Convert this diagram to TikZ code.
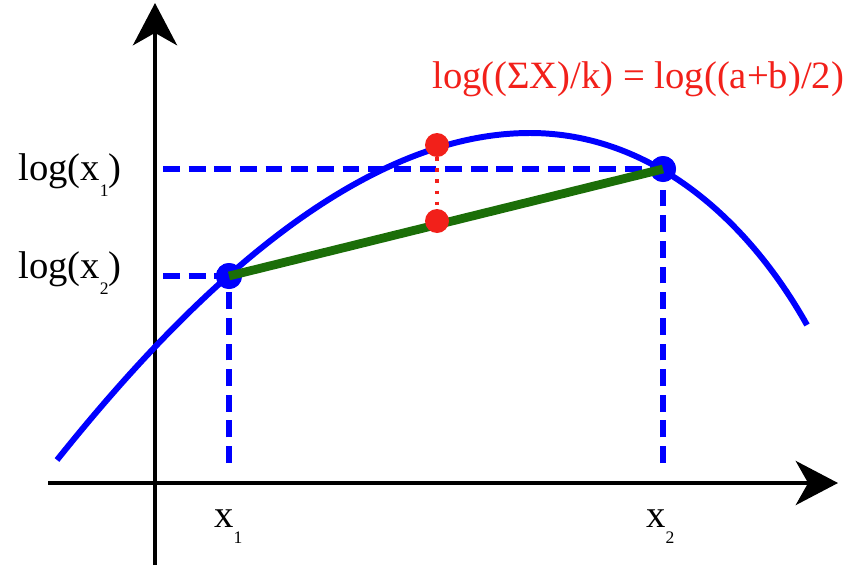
\documentclass[tikz,border=0pt]{standalone}
\usepackage{fontspec}
\setmainfont{Liberation Serif}
\usetikzlibrary{arrows.meta,calc}
\definecolor{curveblue}{HTML}{0000FF}
\definecolor{chordgreen}{HTML}{1B6E08}
\definecolor{meanred}{HTML}{F2201A}
\newcommand{\lowsub}[1]{\raisebox{-0.42em}{\fontsize{10}{10}\selectfont #1}}

\begin{document}
\begin{tikzpicture}[x=0.02cm,y=-0.02cm,>={Stealth[length=24pt,width=25pt,inset=7pt]},
  axis/.style={line width=2.8pt},
  guide/.style={curveblue,line width=3.4pt,dash pattern=on 9.6pt off 5pt},
  bluedot/.style={circle,fill=curveblue,inner sep=0pt,minimum size=0.52cm},
  reddot/.style={circle,fill=meanred,inner sep=0pt,minimum size=0.48cm},
  lbl/.style={font=\fontsize{22}{26}\selectfont,inner sep=0pt}]
  \useasboundingbox (0,0) rectangle (861,575);
  % axes
  \draw[axis,->] (48,483) -- (838,483);
  \draw[axis,->] (155,565) -- (155,3);
  \coordinate (yaxis) at (163,0);
  \coordinate (xaxis) at (0,463);
  % concave curve
  \coordinate (peak) at (530,133);
  \draw[curveblue,line width=3.4pt] (57,460) .. controls (177,310) and (350,133) .. (peak)
    .. controls (650,133) and (747,218) .. (807,325);
  \node[bluedot] (a) at (229,276) {};
  \node[bluedot] (b) at (663,169) {};
  \draw[guide] (a.center -| yaxis) -- (a.center);
  \draw[guide] (b.center -| yaxis) -- (b.center);
  \draw[guide] (a.center |- xaxis) -- (a.center);
  \draw[guide] (b.center |- xaxis) -- (b.center);
  \node[bluedot] at (a) {};
  \node[bluedot] at (b) {};
  \draw[chordgreen,line width=5pt] (a.center) -- (b.center);
  % means
  \node[reddot] (top) at (437,145) {};
  \node[reddot] (low) at (437,221) {};
  \draw[meanred,line width=1.8pt,dash pattern=on 1.8pt off 4.5pt] (top) -- (low);
  % labels
  \node[lbl,anchor=base west] (ly1) at (18,180) {log(x\lowsub{1})};
  \node[lbl,anchor=base west] (ly2) at (18,278) {log(x\lowsub{2})};
  \node[lbl,anchor=base west] (lx1) at (214,527) {x\lowsub{1}};
  \node[lbl,anchor=base west] (lx2) at (646,527) {x\lowsub{2}};
  \node[lbl,anchor=base west,text=meanred] (eq) at (432,88) {log((ΣX)/k) = log((a+b)/2)};
\end{tikzpicture}
\end{document}
